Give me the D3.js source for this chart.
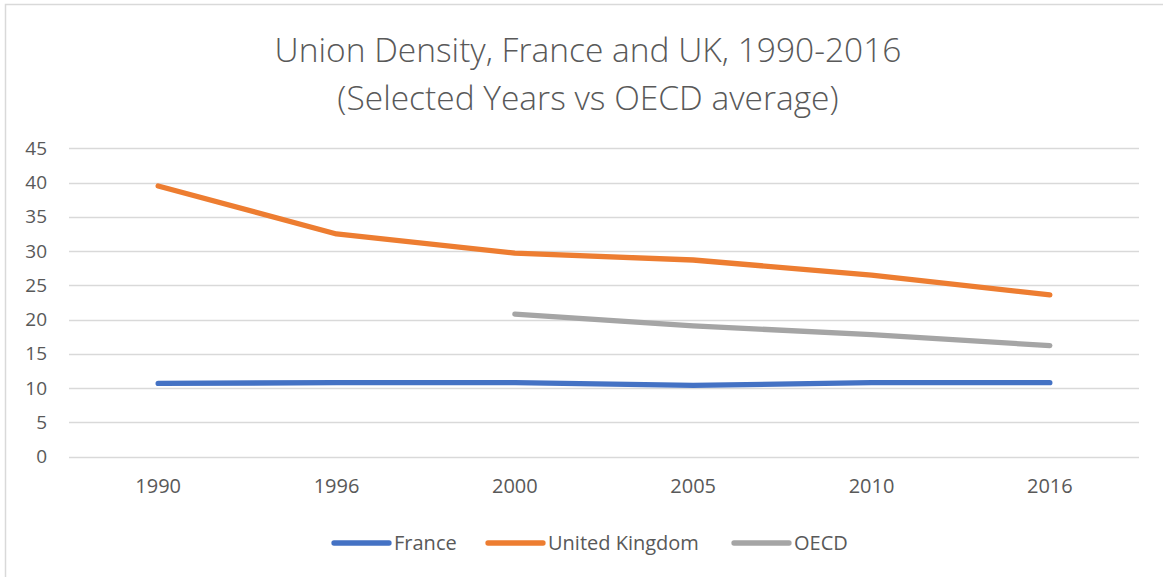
<!DOCTYPE html>
<html>
<head>
<meta charset="utf-8">
<script src="https://cdn.jsdelivr.net/npm/d3@7"></script>
<style>
  html, body { margin: 0; padding: 0; background: #fff; }
  svg { display: block; }
  text { font-family: "Open Sans", "Liberation Sans", sans-serif; fill: #595959; }
</style>
</head>
<body>
<svg id="chart" width="1163" height="577"></svg>
<script>
const years = ["1990", "1996", "2000", "2005", "2010", "2016"];
const france = [10.7, 10.8, 10.8, 10.4, 10.8, 10.8];
const uk = [39.5, 32.5, 29.7, 28.7, 26.5, 23.6];
const oecd = [null, null, 20.8, 19.1, 17.8, 16.2];
const yTicks = [0, 5, 10, 15, 20, 25, 30, 35, 40, 45];
const titleLines = ["Union Density, France and UK, 1990-2016", "(Selected Years vs OECD average)"];
const seriesNames = ["France", "United Kingdom", "OECD"];
const seriesColors = ["#4472C4", "#ED7D31", "#A5A5A5"];

const svg = d3.select("#chart");

// outer border (only top/left visible in the frame)
svg.append("rect")
  .attr("x", 5.5).attr("y", 4.5)
  .attr("width", 1200).attr("height", 700)
  .attr("fill", "none").attr("stroke", "#d9d9d9").attr("stroke-width", 1.5);

// title
svg.append("g").selectAll("text").data(titleLines).join("text")
  .attr("x", 588).attr("y", (d, i) => 62 + i * 48)
  .attr("text-anchor", "middle")
  .style("font-size", "33.5px").style("font-weight", 300)
  .text(d => d);

const x = d3.scaleBand().domain(years).range([69, 1139]).padding(0);
const y = d3.scaleLinear().domain([0, 45]).range([456.7, 148.3]);

// gridlines
svg.append("g").selectAll("line").data(yTicks).join("line")
  .attr("x1", 69).attr("x2", 1139)
  .attr("y1", d => Math.round(y(d)) + 0.5).attr("y2", d => Math.round(y(d)) + 0.5)
  .attr("stroke", "#d9d9d9").attr("stroke-width", 1.3);

// y axis labels
const yAxis = d3.axisLeft(y).tickValues(yTicks).tickSize(0).tickPadding(0);
const yg = svg.append("g").attr("transform", "translate(47,0)").call(yAxis);
yg.select(".domain").remove();
yg.selectAll("text").style("font-size", "19px").attr("fill", "#595959")
  .style("font-family", "'Open Sans', sans-serif");

// x axis labels
const xAxis = d3.axisBottom(x).tickSize(0).tickPadding(0);
const xg = svg.append("g").attr("transform", "translate(0,479)").call(xAxis);
xg.select(".domain").remove();
xg.selectAll("text").style("font-size", "20px").attr("fill", "#595959")
  .style("font-family", "'Open Sans', sans-serif");

// lines
const allSeries = [france, uk, oecd];
const line = d3.line()
  .defined(d => d.v !== null)
  .x(d => x(d.year) + x.bandwidth() / 2)
  .y(d => y(d.v));

svg.append("g").selectAll("path").data(allSeries).join("path")
  .attr("d", s => line(s.map((v, i) => ({ year: years[i], v }))))
  .attr("fill", "none")
  .attr("stroke", (d, i) => seriesColors[i])
  .attr("stroke-width", 5.3)
  .attr("stroke-linecap", "round")
  .attr("stroke-linejoin", "round");

// legend
const legendX = [334, 488, 734];
const lg = svg.append("g").selectAll("g").data(seriesNames).join("g")
  .attr("transform", (d, i) => `translate(${legendX[i]},543)`);
lg.append("line")
  .attr("x1", 0).attr("x2", 55).attr("y1", 0).attr("y2", 0)
  .attr("stroke", (d, i) => seriesColors[i])
  .attr("stroke-width", 5.3).attr("stroke-linecap", "round");
lg.append("text")
  .attr("x", 60).attr("y", 0).attr("dy", "0.35em")
  .style("font-size", "20px")
  .text(d => d);
</script>
</body>
</html>
